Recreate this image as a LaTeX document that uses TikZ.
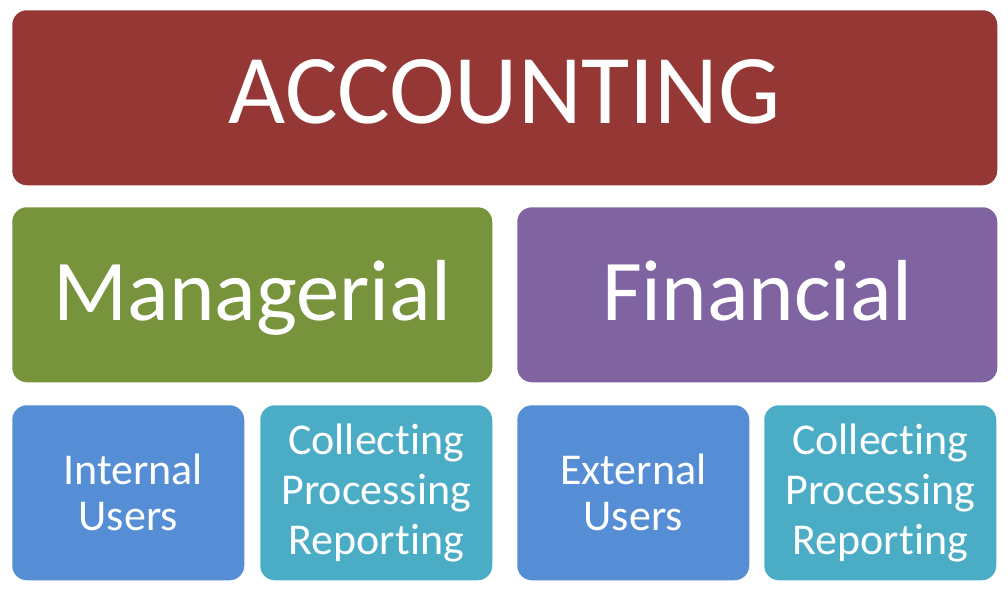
\documentclass[tikz,border=0pt]{standalone}
\usepackage{fontspec}
\setmainfont{Carlito}[Ligatures={NoCommon,NoContextual}]
\definecolor{acctred}{HTML}{953735}
\definecolor{mgrgreen}{HTML}{77933C}
\definecolor{finpurple}{HTML}{8064A2}
\definecolor{userblue}{HTML}{558ED5}
\definecolor{stepteal}{HTML}{4BACC6}
\newcommand{\stepnames}{Collect\kern0pt ing\\Processing\\Report\kern0pt ing}
\begin{document}
\begin{tikzpicture}[x=0.75pt, y=-0.75pt,
    box/.style={rounded corners=11pt, inner sep=0pt, anchor=north west,
      text=white, align=center},
    topbox/.style={box, minimum width=738.75pt, minimum height=131.25pt,
      text height=38.25pt, text depth=0pt,
      font=\fontsize{74}{74}\selectfont},
    midbox/.style={box, minimum width=360pt, minimum height=131.25pt,
      text height=38.25pt, text depth=0pt,
      font=\fontsize{65}{65}\selectfont},
    userbox/.style={box, fill=userblue, minimum width=174pt, minimum height=131.25pt,
      font=\fontsize{33}{34.5}\selectfont},
    stepbox/.style={box, fill=stepteal, minimum width=174pt, minimum height=131.25pt,
      font=\fontsize{33}{37.5}\selectfont}]
    \useasboundingbox (0,0) rectangle (1008,593);

    \node[topbox, fill=acctred] (acct) at (12, 10) {ACCOUNTING};

    \node[midbox, fill=mgrgreen] (mgr) at (12, 207) {Managerial};
    \node[midbox, fill=finpurple] (fin) at (517, 207) {Financial};

    \node[userbox] (intusers) at (12, 405) {\hspace*{7.5pt}Internal\\Users};
    \node[stepbox] (mgrsteps) at (260, 405) {\stepnames};
    \node[userbox] (extusers) at (517, 405) {External\\Users};
    \node[stepbox] (finsteps) at (764, 405) {\stepnames};
\end{tikzpicture}
\end{document}
